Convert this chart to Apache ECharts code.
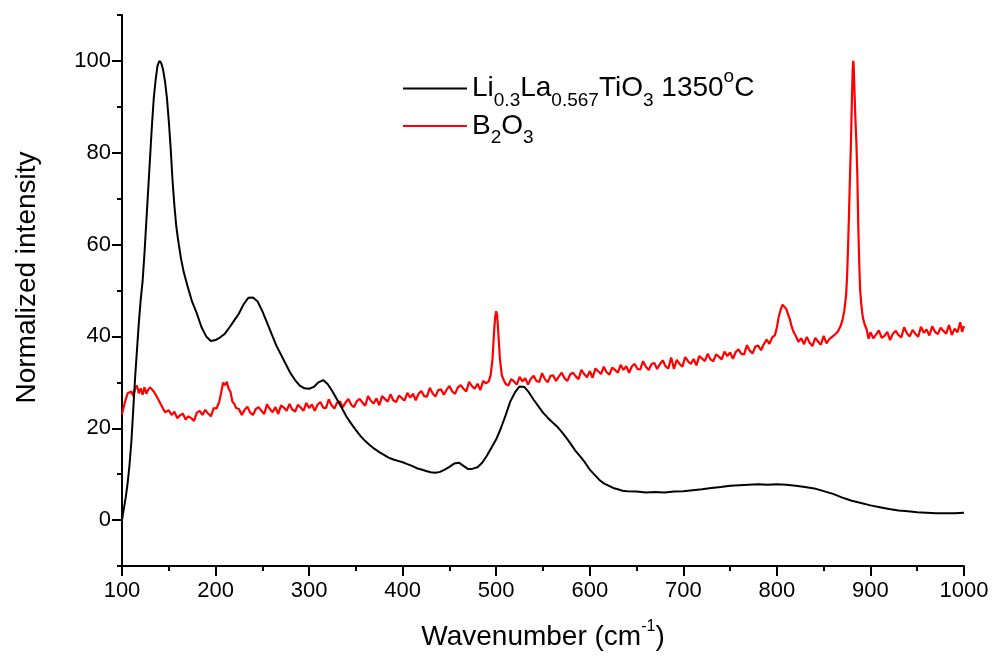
<!DOCTYPE html>
<html>
<head>
<meta charset="utf-8">
<script src="https://cdn.jsdelivr.net/npm/echarts@6/dist/echarts.min.js"></script>
<style>
html,body{margin:0;padding:0;background:#fff;}
#chart{width:992px;height:656px;}
</style>
</head>
<body>
<div id="chart"></div>
<script>
// Wavenumber range / ticks
var xMin = 100, xMax = 1000, xInterval = 100;
var yMin = -10, yMax = 110;
var yMajorTicks = [0, 20, 40, 60, 80, 100];
var yMinorTicks = [-10, 10, 30, 50, 70, 90, 110];

var seriesNames = ['LLTO', 'B2O3'];

// Li0.3La0.567TiO3 1350 oC  [wavenumber, normalized intensity]
var lltoData = [
[100,0],[102,2.5],[104,5],[106,8],[108,12],[110,17],[112,24],[114,31],[116,37],[118,43],
[120,48],[122,52],[124,58],[126,65],[128,72],[130,79],[132,86],[134,92],[136,96],[138,99],
[140,100],[142,99.5],[144,98],[146,95.5],[148,92],[150,87],[152,81],[154,74],[156,68.5],[158,64],
[160,61],[163,57],[166,54],[170,51],[175,47.5],[180,45],[185,42],[190,40],[195,39],[200,39.2],
[205,39.8],[210,40.6],[215,42],[220,43.5],[225,45],[230,47],[235,48.4],[240,48.5],[245,47.6],[250,45.5],
[255,43],[260,40.5],[265,38],[270,36],[275,34],[280,32],[285,30.5],[290,29.3],[295,28.7],[300,28.6],
[305,29],[310,30],[315,30.5],[320,29.6],[325,28],[330,26.2],[335,24.4],[340,22.5],[345,21],[350,19.6],
[355,18.3],[360,17.2],[365,16.3],[370,15.5],[375,14.8],[380,14.2],[385,13.6],[390,13.2],[395,12.9],[400,12.6],
[405,12.2],[410,11.8],[415,11.3],[420,11.0],[425,10.7],[430,10.4],[435,10.3],[440,10.5],[445,11.0],[450,11.6],
[455,12.3],[460,12.5],[465,11.8],[470,11.1],[475,11.2],[480,11.5],[485,12.5],[490,14],[495,15.8],[500,17.6],
[505,20],[510,22.8],[515,25.8],[520,27.8],[525,29.1],[530,29.0],[535,27.8],[540,26.2],[545,24.8],[550,23.4],
[555,22.3],[560,21.3],[565,20.4],[570,19.2],[575,17.9],[580,16.5],[585,15.0],[590,13.8],[595,12.5],[600,11.0],
[605,9.9],[610,8.8],[615,8.0],[620,7.5],[625,7.0],[630,6.7],[635,6.4],[640,6.3],[650,6.2],[660,6.0],
[670,6.1],[680,6.0],[690,6.2],[700,6.3],[710,6.5],[720,6.7],[730,7.0],[740,7.2],[750,7.5],[760,7.6],
[770,7.7],[780,7.8],[790,7.7],[800,7.8],[810,7.7],[820,7.5],[830,7.2],[840,6.9],[850,6.3],[860,5.7],
[870,4.9],[880,4.2],[890,3.7],[900,3.2],[910,2.8],[920,2.4],[930,2.1],[940,1.9],[950,1.7],[960,1.6],
[970,1.5],[980,1.5],[990,1.5],[1000,1.6]
];

// B2O3  [wavenumber, normalized intensity]
var b2o3Data = [
[100,23.0],[102,24.8],[104,26.3],[106,27.6],[108,27.2],[110,28.0],[112,27.0],[114,28.6],[116,29.3],[118,27.6],
[120,28.7],[122,27.3],[124,28.9],[126,27.5],[128,28.4],[130,28.9],[132,29.2],[134,28.0],[136,27.8],[138,26.6],
[140,26.5],[142,25.0],[144,25.2],[146,23.5],[148,23.7],[150,23.9],[153,22.9],[156,23.6],[159,22.2],[162,22.8],
[165,23.2],[168,21.9],[171,22.6],[174,22.2],[177,21.6],[180,23.4],[183,23.8],[186,22.9],[189,24.0],[192,23.2],
[195,22.6],[198,24.4],[201,24.3],[204,25.8],[206,27.8],[208,29.9],[210,29.4],[212,30.1],[214,28.6],[216,27.9],
[218,25.8],[220,25.3],[222,24.4],[225,24.2],[228,22.9],[231,24.0],[234,24.7],[237,23.4],[240,22.9],[243,24.2],
[246,24.6],[249,23.8],[252,23.1],[255,25.2],[258,24.2],[261,23.5],[264,24.6],[267,23.1],[270,25.0],[273,24.5],
[276,23.8],[279,25.3],[282,24.1],[285,23.6],[288,25.1],[291,24.5],[294,23.8],[297,25.5],[300,24.4],[303,25.2],
[306,23.8],[309,25.1],[312,25.7],[315,24.5],[318,24.4],[321,26.3],[324,25.0],[327,24.3],[330,25.6],[333,25.8],
[336,24.6],[339,25.6],[342,26.4],[345,25.1],[348,24.6],[351,25.9],[354,26.4],[357,25.6],[360,24.9],[363,27.0],
[366,26.0],[369,25.4],[372,26.5],[375,25.0],[378,27.0],[381,26.4],[384,25.8],[387,27.4],[390,26.1],[393,25.7],
[396,27.1],[399,26.6],[402,26.0],[405,27.7],[408,26.7],[411,27.5],[414,26.1],[417,27.5],[420,28.1],[423,27.0],
[426,26.9],[429,28.8],[432,27.6],[435,26.9],[438,28.3],[441,28.5],[444,27.3],[447,28.4],[450,29.2],[453,28.0],
[456,27.5],[459,28.9],[462,29.4],[465,28.6],[468,28.0],[471,30.1],[474,29.2],[477,28.6],[480,29.7],[483,28.3],
[486,30.3],[489,29.8],[492,30.2],[494,31.5],[496,35.0],[498,42.0],[499,44.5],[500,45.5],[501,44.5],[502,41.5],
[504,35.0],[506,31.5],[508,30.5],[510,29.7],[513,29.3],[516,30.7],[519,30.2],[522,29.5],[525,31.2],[528,30.2],
[531,30.9],[534,29.5],[537,30.8],[540,31.4],[543,30.3],[546,30.1],[549,32.0],[552,30.7],[555,30.0],[558,31.4],
[561,31.5],[564,30.3],[567,31.3],[570,32.1],[573,30.9],[576,30.3],[579,31.7],[582,32.1],[585,31.3],[588,30.7],
[591,32.7],[594,31.8],[597,31.1],[600,32.4],[603,31.0],[606,33.0],[609,32.4],[612,31.8],[615,33.4],[618,32.2],
[621,31.7],[624,33.2],[627,32.7],[630,32.1],[633,33.8],[636,32.7],[639,33.5],[642,32.1],[645,33.5],[648,34.0],
[651,32.9],[654,32.8],[657,34.6],[660,33.4],[663,32.7],[666,34.0],[669,34.2],[672,32.9],[675,34.0],[678,34.8],
[681,33.5],[684,33.0],[687,35.4],[690,32.9],[693,34.9],[696,34.0],[699,33.4],[702,35.5],[705,34.6],[708,34.0],
[711,35.1],[714,33.7],[717,35.7],[720,35.2],[723,34.6],[726,36.2],[729,35.0],[732,34.6],[735,36.1],[738,35.6],
[741,35.0],[744,36.7],[747,35.7],[750,36.5],[753,35.1],[756,36.6],[759,37.2],[762,36.2],[765,36.1],[768,38.1],
[771,36.9],[774,36.3],[777,37.8],[780,38.0],[783,37.0],[786,38.3],[789,39.3],[792,38.4],[795,39.8],[798,40.3],
[800,42.0],[802,44.3],[804,45.8],[806,46.9],[808,47.2],[810,46.0],[812,44.8],[814,43.6],[816,42.0],[818,40.9],
[820,40.2],[823,38.8],[826,39.6],[829,38.3],[832,39.9],[835,38.6],[838,37.9],[841,39.7],[844,38.9],[847,38.2],
[850,40.1],[853,38.5],[856,39.4],[859,39.9],[862,40.4],[865,41.0],[868,42.2],[870,43.5],[872,45.5],[874,49.0],
[875,53.0],[876,59.0],[877,66.0],[878,74.0],[879,81.0],[880,90.0],[881,98.0],[881.6,100.0],[882,99.5],[883,93.0],
[884,87.0],[885,82.0],[886,75.0],[887,64.0],[888,56.0],[889,50.0],[890,47.5],[891,45.5],[892,44.0],[894,42.5],
[896,41.5],[898,39.5],[900,40.9],[903,39.6],[906,40.4],[909,41.3],[912,39.7],[915,40.1],[918,41.0],[921,39.2],
[924,40.6],[927,41.2],[930,40.3],[933,39.8],[936,42.0],[939,40.7],[942,40.0],[945,41.4],[948,40.6],[951,39.9],
[954,42.1],[957,40.8],[960,41.5],[963,40.2],[966,42.2],[969,41.0],[972,40.5],[975,41.9],[978,41.2],[981,40.6],
[984,42.5],[987,40.3],[990,41.7],[993,40.9],[996,43.1],[998,41.0],[1000,42.3]
];

var FONT = 'Liberation Sans, Arial, sans-serif';
var chart = echarts.init(document.getElementById('chart'), null, {renderer: 'canvas'});

var legendRich = {
  m: {fontSize: 28, lineHeight: 43, verticalAlign: 'middle', fontFamily: FONT, color: '#000'},
  s: {fontSize: 19, lineHeight: 19, verticalAlign: 'bottom', fontFamily: FONT, color: '#000'},
  p: {fontSize: 19, lineHeight: 29, verticalAlign: 'top', fontFamily: FONT, color: '#000'}
};

var option = {
  animation: false,
  backgroundColor: '#fff',
  grid: {left: 122, right: 28, top: 15, bottom: 89, containLabel: false},
  legend: {
    orient: 'vertical',
    left: 398,
    top: 62,
    itemWidth: 64,
    itemHeight: 2,
    itemGap: 2,
    icon: 'rect',
    data: seriesNames,
    formatter: function (name) {
      if (name === 'LLTO') {
        return '{m|Li}{s|0.3}{m|La}{s|0.567}{m|TiO}{s|3}{m| 1350}{p|o}{m|C}';
      }
      return '{m|B}{s|2}{m|O}{s|3}';
    },
    textStyle: {fontFamily: FONT, fontSize: 28, color: '#000', rich: legendRich}
  },
  xAxis: {
    type: 'value',
    min: xMin, max: xMax, interval: xInterval,
    name: '{a|Wavenumber (cm}{b|-1}{a|)}',
    nameLocation: 'middle',
    nameGap: 53,
    nameTextStyle: {
      fontFamily: FONT, fontSize: 28, color: '#000',
      rich: {
        a: {fontSize: 28, fontFamily: FONT, color: '#000', lineHeight: 32, verticalAlign: 'bottom'},
        b: {fontSize: 16, fontFamily: FONT, color: '#000', lineHeight: 30, verticalAlign: 'top'}
      }
    },
    axisLine: {show: true, onZero: false, lineStyle: {color: '#000', width: 2}},
    axisTick: {show: true, inside: false, length: 10, lineStyle: {color: '#000', width: 2}},
    minorTick: {show: true, splitNumber: 2, length: 5, lineStyle: {color: '#000', width: 2}},
    axisLabel: {fontFamily: FONT, fontSize: 22, color: '#000', margin: 14,
      formatter: function (v) { return String(v); }},
    splitLine: {show: false}
  },
  yAxis: [{
    type: 'value',
    min: yMin, max: yMax, interval: 10,
    name: 'Normalized intensity',
    nameLocation: 'middle',
    nameGap: 81,
    nameTextStyle: {fontFamily: FONT, fontSize: 28, color: '#000', padding: [0, 0, 0, 26]},
    axisLine: {show: true, onZero: false, lineStyle: {color: '#000', width: 2}},
    axisTick: {show: true, inside: false, length: 10, customValues: yMajorTicks, lineStyle: {color: '#000', width: 2}},
    axisLabel: {show: true, customValues: yMajorTicks, fontFamily: FONT, fontSize: 22, color: '#000', margin: 11},
    splitLine: {show: false}
  }, {
    type: 'value',
    position: 'left',
    min: yMin, max: yMax, interval: 10,
    axisLine: {show: false},
    axisTick: {show: true, inside: false, length: 5, customValues: yMinorTicks, lineStyle: {color: '#000', width: 2}},
    axisLabel: {show: false},
    splitLine: {show: false}
  }],
  series: [{
    name: 'LLTO',
    type: 'line',
    data: lltoData,
    yAxisIndex: 0,
    showSymbol: false,
    symbol: 'none',
    lineStyle: {color: '#000000', width: 2},
    itemStyle: {color: '#000000'},
    z: 3
  }, {
    name: 'B2O3',
    type: 'line',
    data: b2o3Data,
    yAxisIndex: 0,
    showSymbol: false,
    symbol: 'none',
    lineStyle: {color: '#ff0000', width: 2.2},
    itemStyle: {color: '#ff0000'},
    z: 2
  }]
};
chart.setOption(option);
</script>
</body>
</html>
